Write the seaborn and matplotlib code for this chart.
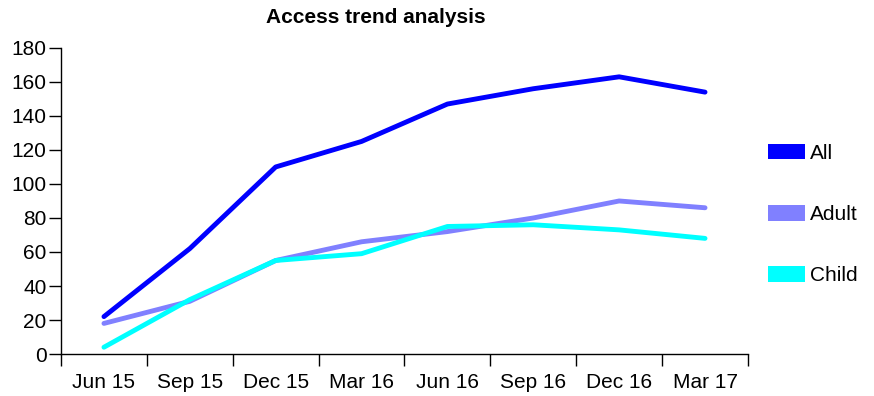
import matplotlib
matplotlib.use('Agg')
import matplotlib.pyplot as plt
from matplotlib.patches import Patch
import numpy as np
import pandas as pd
import seaborn as sns

sns.set_style('white')
plt.rcParams['font.family'] = ['Liberation Sans', 'DejaVu Sans']
plt.rcParams['text.color'] = 'black'
plt.rcParams['xtick.color'] = 'black'
plt.rcParams['ytick.color'] = 'black'

# data
quarters = ['Jun 15', 'Sep 15', 'Dec 15', 'Mar 16', 'Jun 16', 'Sep 16', 'Dec 16', 'Mar 17']
all_vals = [22, 62, 110, 125, 147, 156, 163, 154]
adult_vals = [18, 31, 55, 66, 72, 80, 90, 86]
child_vals = [4, 32, 55, 59, 75, 76, 73, 68]
series = ['All', 'Adult', 'Child']
colors = ['#0000ff', '#8080ff', '#00ffff']

df = pd.DataFrame({
    'quarter': quarters * 3,
    'pos': list(range(len(quarters))) * 3,
    'value': all_vals + adult_vals + child_vals,
    'group': ['All'] * 8 + ['Adult'] * 8 + ['Child'] * 8,
})

fig = plt.figure(figsize=(8.74, 3.96), dpi=100)
ax = fig.add_axes([0.0698, 0.106, 0.786, 0.773])

sns.lineplot(data=df, x='pos', y='value', hue='group', hue_order=series,
             palette=colors, linewidth=3.5, legend=False, ax=ax)

ax.set_xlim(-0.5, len(quarters) - 0.5)
ax.set_ylim(0, 180)
ax.set_yticks(np.arange(0, 181, 20))
ax.set_xticks(range(len(quarters)))
ax.set_xticklabels(quarters)
ax.set_xticks(np.arange(-0.5, len(quarters)), minor=True)
ax.tick_params(axis='x', which='major', length=0, pad=13.5, labelsize=15)
ax.tick_params(axis='x', which='minor', length=8.5, width=1, direction='out', bottom=True)
ax.tick_params(axis='y', length=8.5, width=1, direction='out', left=True, pad=2, labelsize=15)
ax.set_xlabel('')
ax.set_ylabel('')

for s in ['top', 'right']:
    ax.spines[s].set_visible(False)
for s in ['left', 'bottom']:
    ax.spines[s].set_color('black')
    ax.spines[s].set_linewidth(1)

handles = [Patch(facecolor=c, edgecolor='none', label=s) for s, c in zip(series, colors)]
fig.legend(handles=handles, loc='upper left', bbox_to_anchor=(0.879, 0.637),
           frameon=False, fontsize=15, handlelength=1.78, handleheight=0.77,
           handletextpad=0.24, labelspacing=2.03, borderpad=0, borderaxespad=0)

fig.text(0.43, 0.955, 'Access trend analysis', ha='center', va='center',
         fontsize=15, fontweight='bold')

fig.savefig('out.png', dpi=100)
